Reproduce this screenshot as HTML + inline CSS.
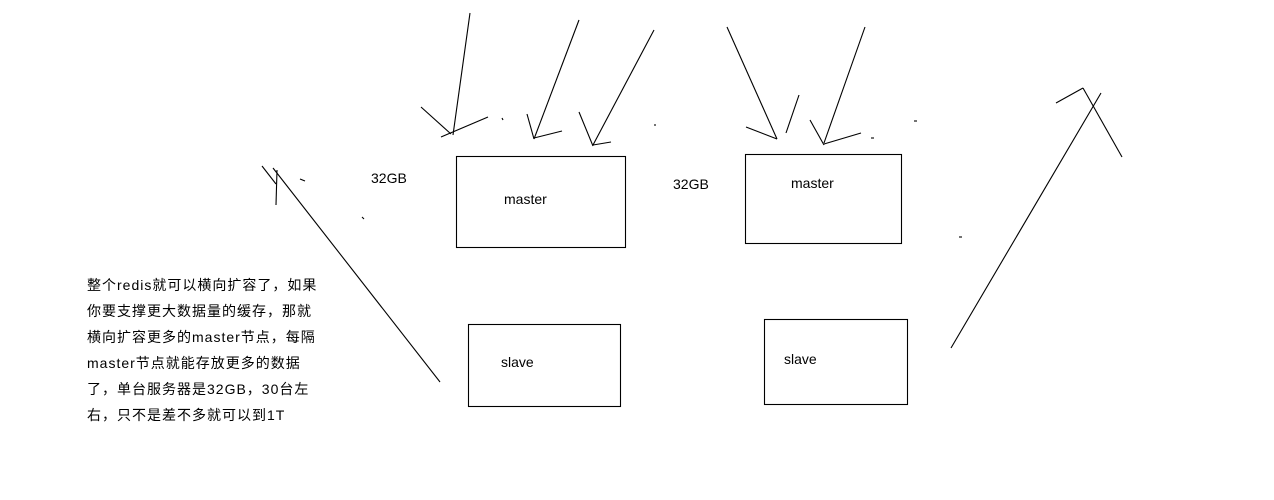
<!DOCTYPE html>
<html><head><meta charset="utf-8"><style>
html,body{margin:0;padding:0;background:#fff;}
svg{display:block}
text{font-family:"Liberation Sans","Noto Sans CJK SC",sans-serif;font-size:14px;fill:#000}
.cn{letter-spacing:1px}
</style></head><body>
<svg width="1274" height="500" viewBox="0 0 1274 500" xmlns="http://www.w3.org/2000/svg">
<g stroke="#000" stroke-width="1.1" fill="none">
<rect x="456.5" y="156.5" width="169" height="91"/>
<rect x="745.5" y="154.5" width="156" height="89"/>
<rect x="468.5" y="324.5" width="152" height="82"/>
<rect x="764.5" y="319.5" width="143" height="85"/>
<line x1="470" y1="13" x2="453" y2="135"/>
<line x1="421" y1="107" x2="451" y2="134"/>
<line x1="441" y1="137" x2="488" y2="117"/>
<line x1="579" y1="20" x2="534" y2="139"/>
<line x1="527" y1="114" x2="534" y2="139"/>
<line x1="534" y1="138" x2="562" y2="131"/>
<line x1="654" y1="30" x2="593" y2="145"/>
<line x1="579" y1="112" x2="593" y2="146"/>
<line x1="593" y1="145" x2="611" y2="142"/>
<line x1="727" y1="27" x2="777" y2="139"/>
<line x1="746" y1="127" x2="777" y2="139"/>
<line x1="786" y1="133" x2="799" y2="95"/>
<line x1="865" y1="27" x2="824" y2="143"/>
<line x1="810" y1="120" x2="824" y2="145"/>
<line x1="824" y1="144" x2="861" y2="133"/>
<line x1="440" y1="382" x2="273" y2="168"/>
<line x1="262" y1="166" x2="276" y2="184"/>
<line x1="277" y1="170" x2="276" y2="205"/>
<line x1="951" y1="348" x2="1101" y2="93"/>
<line x1="1056" y1="103" x2="1083" y2="88"/>
<line x1="1083" y1="88" x2="1122" y2="157"/>
<line x1="300" y1="179" x2="305" y2="181"/>
<line x1="362" y1="217" x2="364" y2="219"/>
<line x1="502" y1="118" x2="503" y2="120"/>
<line x1="654" y1="125" x2="656" y2="125"/>
<line x1="871" y1="138" x2="874" y2="138"/>
<line x1="914" y1="121" x2="917" y2="121"/>
<line x1="959" y1="237" x2="962" y2="237"/>
</g>
<text x="371" y="183">32GB</text>
<text x="673" y="189">32GB</text>
<text x="504" y="204">master</text>
<text x="791" y="188">master</text>
<text x="501" y="367">slave</text>
<text x="784" y="364">slave</text>
<text class="cn" x="87" y="290">整个redis就可以横向扩容了，如果</text>
<text class="cn" x="87" y="316">你要支撑更大数据量的缓存，那就</text>
<text class="cn" x="87" y="342">横向扩容更多的master节点，每隔</text>
<text class="cn" x="87" y="368">master节点就能存放更多的数据</text>
<text class="cn" x="87" y="394">了，单台服务器是32GB，30台左</text>
<text class="cn" x="87" y="420">右，只不是差不多就可以到1T</text>
</svg>
</body></html>
